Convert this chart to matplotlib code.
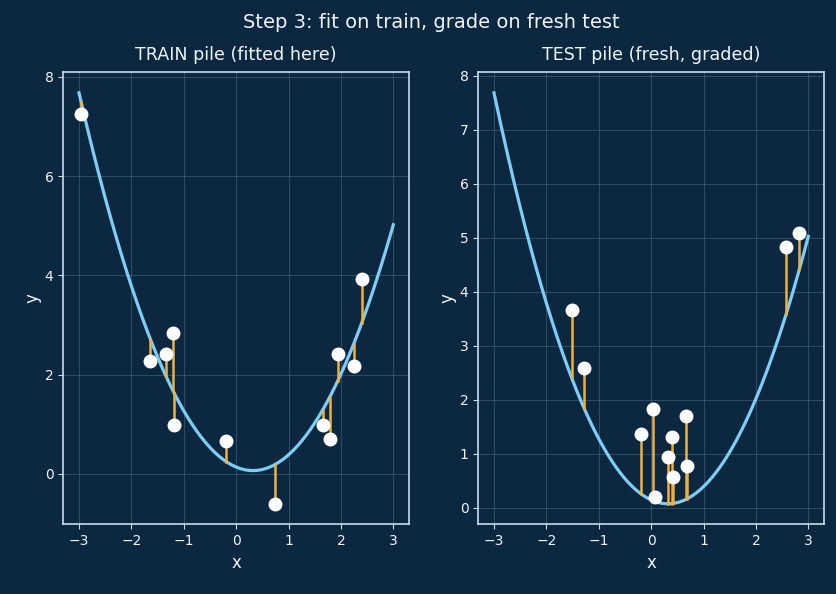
import numpy as np
import matplotlib
matplotlib.use("Agg")
import matplotlib.pyplot as plt

# fitted quadratic (highest power first)
coefs = [0.69, -0.443, 0.14]

train_x = [-2.96, -1.64, -1.34, -1.20, -1.18, -0.19, 0.75, 1.65, 1.79, 1.94, 2.24, 2.40]
train_y = [7.26, 2.28, 2.42, 2.84, 0.99, 0.67, -0.60, 0.98, 0.70, 2.42, 2.18, 3.92]

test_x = [-1.52, -1.28, -0.19, 0.03, 0.08, 0.33, 0.40, 0.42, 0.67, 0.68, 2.58, 2.83]
test_y = [3.66, 2.59, 1.37, 1.83, 0.19, 0.93, 1.31, 0.56, 1.70, 0.76, 4.82, 5.08]

bg = "#0b2840"
fg = "#eef4fa"
spine_col = "#c8dcef"
curve_col = "#7fcdf5"
resid_col = "#f0b040"

plt.rcParams["font.family"] = "DejaVu Sans"

fig = plt.figure(figsize=(8.37, 5.94), dpi=100)
fig.patch.set_facecolor(bg)
ax1 = fig.add_axes([0.0756, 0.1173, 0.4131, 0.761])
ax2 = fig.add_axes([0.5714, 0.1173, 0.4131, 0.761])

xs = np.linspace(-3, 3, 300)
ys = np.polyval(coefs, xs)

panels = [(ax1, train_x, train_y, "TRAIN pile (fitted here)"),
          (ax2, test_x, test_y, "TEST pile (fresh, graded)")]

for ax, px, py, title in panels:
    ax.set_facecolor(bg)
    ax.plot(xs, ys, color=curve_col, lw=2.3, zorder=2)
    pred = np.polyval(coefs, np.array(px))
    for xi, yi, fi in zip(px, py, pred):
        ax.plot([xi, xi], [yi, fi], color=resid_col, lw=1.8, zorder=3)
    ax.plot(px, py, "o", color="white", ms=9, mec="white", zorder=4)
    ax.set_title(title, color=fg, fontsize=12.6, pad=8.5)
    ax.set_xlabel("x", color=fg, fontsize=12)
    ax.set_ylabel("y", color=fg, fontsize=12, labelpad=2)
    ax.grid(True, color="#8aa4bc", alpha=0.35, lw=0.6)
    ax.set_axisbelow(True)
    ax.tick_params(colors=spine_col, labelcolor=fg, labelsize=10)
    for s in ax.spines.values():
        s.set_color(spine_col)
        s.set_linewidth(1.2)
    ax.set_xticks([-3, -2, -1, 0, 1, 2, 3])

fig.suptitle("Step 3: fit on train, grade on fresh test", color=fg, fontsize=14,
             x=0.515, y=0.978)

fig.savefig("out.png", dpi=100, facecolor=bg)
